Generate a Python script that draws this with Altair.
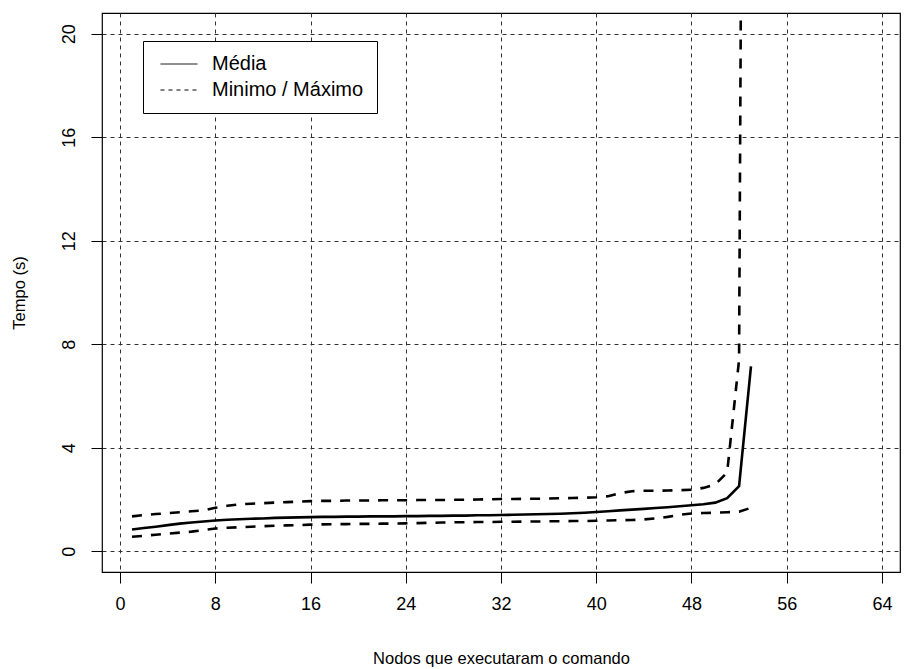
import altair as alt
import pandas as pd

nodos = list(range(1, 54))

media = [0.84, 0.90, 0.95, 1.01, 1.07, 1.11, 1.15, 1.19, 1.22, 1.24,
         1.26, 1.27, 1.29, 1.30, 1.31, 1.32, 1.33, 1.33, 1.34, 1.34,
         1.35, 1.35, 1.35, 1.36, 1.36, 1.37, 1.37, 1.38, 1.38, 1.39,
         1.39, 1.40, 1.41, 1.42, 1.43, 1.44, 1.45, 1.47, 1.49, 1.52,
         1.55, 1.58, 1.61, 1.64, 1.67, 1.70, 1.74, 1.78, 1.82, 1.88,
         2.05, 2.52, 7.15]

minimo = [0.56, 0.60, 0.64, 0.68, 0.72, 0.76, 0.82, 0.88, 0.91, 0.93,
          0.95, 0.97, 0.99, 1.00, 1.01, 1.03, 1.04, 1.05, 1.05, 1.06,
          1.06, 1.07, 1.07, 1.08, 1.09, 1.10, 1.11, 1.12, 1.12, 1.13,
          1.13, 1.14, 1.14, 1.15, 1.15, 1.16, 1.16, 1.17, 1.17, 1.18,
          1.19, 1.20, 1.21, 1.23, 1.27, 1.33, 1.41, 1.46, 1.48, 1.49,
          1.51, 1.53, 1.68]

maximo = [1.35, 1.40, 1.44, 1.47, 1.51, 1.55, 1.58, 1.68, 1.76, 1.81,
          1.84, 1.86, 1.88, 1.90, 1.92, 1.94, 1.95, 1.95, 1.96, 1.96,
          1.96, 1.97, 1.97, 1.97, 1.98, 1.98, 1.98, 1.99, 1.99, 2.00,
          2.01, 2.02, 2.02, 2.03, 2.03, 2.04, 2.05, 2.06, 2.07, 2.09,
          2.13, 2.25, 2.32, 2.34, 2.34, 2.35, 2.36, 2.38, 2.45, 2.58,
          3.05, 7.40, 100.0]

x_ticks = [0, 8, 16, 24, 32, 40, 48, 56, 64]
y_ticks = [0, 4, 8, 12, 16, 20]

rows = []
for serie, tipo, vals in [("Média", "Média", media),
                          ("Mínimo", "Minimo / Máximo", minimo),
                          ("Máximo", "Minimo / Máximo", maximo)]:
    for n, v in zip(nodos, vals):
        rows.append({"n": n, "valor": v, "serie": serie, "tipo": tipo})
df = pd.DataFrame(rows)

FONT = "Liberation Sans"

x_enc = alt.X("n:Q",
              scale=alt.Scale(domain=[-1.52, 65.52], nice=False, zero=False),
              axis=alt.Axis(values=x_ticks, title="Nodos que executaram o comando",
                            domain=False, tickColor="black", tickSize=11,
                            labelPadding=12, labelFontSize=18, labelColor="black",
                            labelFont=FONT, titleFont=FONT, titleFontSize=16.5,
                            titleFontWeight="normal", titleColor="black",
                            titleBaseline="alphabetic", titleY=91,
                            grid=True, gridColor="#333333", gridDash=[4, 4],
                            gridWidth=1))
y_enc = alt.Y("valor:Q",
              scale=alt.Scale(domain=[-0.8, 20.8], nice=False, zero=False),
              axis=alt.Axis(values=y_ticks, title="Tempo (s)",
                            domain=False, tickColor="black", tickSize=11,
                            labelAngle=270, labelAlign="center",
                            labelBaseline="alphabetic", labelPadding=17,
                            labelFontSize=18, labelColor="black", labelFont=FONT,
                            titleFont=FONT, titleFontSize=16.5, titleFontWeight="normal",
                            titleColor="black", titleAngle=270, titleAlign="center",
                            titleBaseline="alphabetic", titleX=-78, titleY=279.5,
                            grid=True, gridColor="#333333", gridDash=[4, 4],
                            gridWidth=1))

base = alt.Chart(df)

mean_line = base.transform_filter("datum.serie == 'Média'").mark_line(
    clip=True, color="black", strokeWidth=2.6).encode(x=x_enc, y=y_enc)

minmax_lines = base.transform_filter("datum.serie != 'Média'").mark_line(
    clip=True, color="black", strokeWidth=2.6, strokeDash=[10, 9]).encode(
    x=x_enc, y=y_enc, detail="serie:N")

legend_layer = base.transform_filter("datum.n == 1").mark_line(
    clip=True, color="black", strokeWidth=1).encode(
    x=x_enc, y=y_enc, detail="serie:N",
    strokeDash=alt.StrokeDash(
        "tipo:N",
        scale=alt.Scale(domain=["Média", "Minimo / Máximo"], range=[[1, 0], [4, 4]]),
        legend=alt.Legend(title=None, orient="none", legendX=41, legendY=28,
                          symbolType="M-2,0H2", symbolSize=342,
                          symbolStrokeWidth=1, symbolStrokeColor="black",
                          symbolOffset=13, strokeColor="black", padding=13,
                          rowPadding=6, labelOffset=23, labelFontSize=20,
                          labelFont=FONT, labelColor="black", fillColor="white")))

chart = alt.layer(mean_line, minmax_lines, legend_layer).properties(
    width=798, height=559,
    padding={"left": 102, "top": 13, "right": 4, "bottom": 97},
    autosize=alt.AutoSizeParams(type="none"),
    background="white",
).configure_view(stroke="black", strokeWidth=1.2)

chart.save("out.html", embed_options={"renderer": "svg", "actions": False})
